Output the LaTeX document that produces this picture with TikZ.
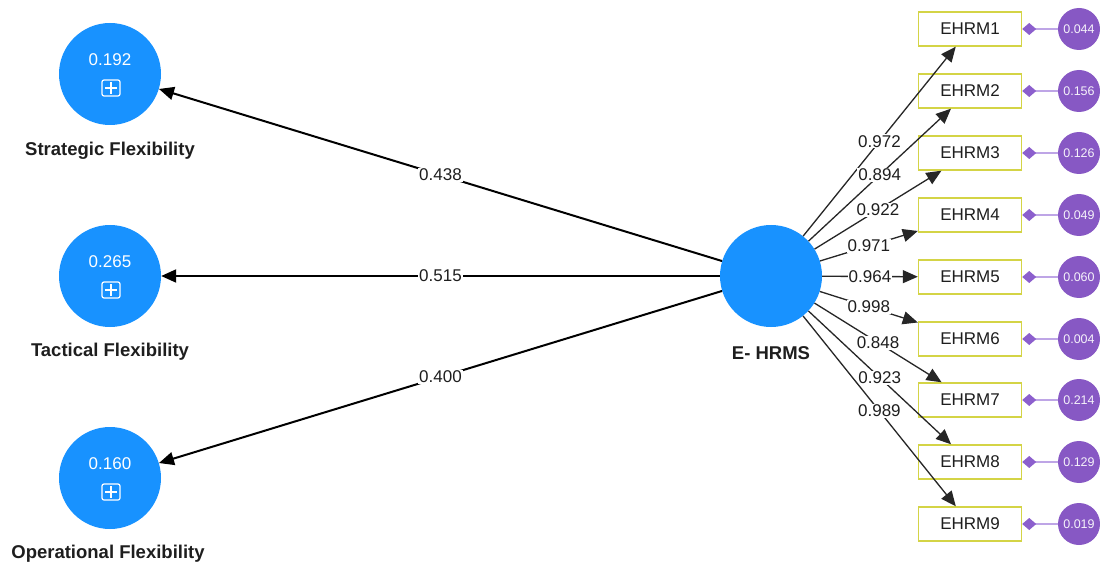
\documentclass[tikz,border=0pt]{standalone}
\usepackage{fontspec}
\setmainfont{Liberation Sans}
\usetikzlibrary{arrows.meta}
\definecolor{lvblue}{RGB}{24,146,255}
\definecolor{indyellow}{RGB}{212,212,70}
\definecolor{errpurple}{RGB}{135,88,196}
\definecolor{errline}{RGB}{190,165,230}
\definecolor{diapurple}{RGB}{140,95,205}
\definecolor{textgray}{RGB}{30,30,30}
\begin{document}
\begin{tikzpicture}[x=1pt,y=-1pt,
  lv/.style={circle, fill=lvblue, minimum size=102pt, inner sep=0pt},
  lvname/.style={font=\fontsize{18.5}{20}\selectfont\bfseries, text=textgray},
  lvval/.style={font=\fontsize{17}{17}\selectfont, text=white},
  ind/.style={draw=indyellow, line width=1.4pt, fill=white, minimum width=103pt, minimum height=34pt, inner sep=0pt, font=\fontsize{17}{17}\selectfont, text=textgray},
  err/.style={circle, fill=errpurple, minimum size=42pt, inner sep=0pt, text=white!92!errpurple, font=\fontsize{12.5}{12.5}\selectfont},
  outeredge/.style={line width=2pt, draw=black, -{Triangle[length=15pt,width=13pt]}},
  loadedge/.style={line width=1.3pt, draw=black!85, -{Triangle[length=15pt,width=13pt]}},
  erredge/.style={line width=1.6pt, draw=errline, -{Diamond[length=14pt,width=12pt,fill=diapurple,color=diapurple]}},
  lbl/.style={fill=white, inner sep=1pt, font=\fontsize{17}{17}\selectfont, text=textgray},
  plusicon/.style={draw=white, line width=1.2pt, rounded corners=2pt}
]
\clip (0,0) rectangle (1100,564);
\useasboundingbox (0,0) rectangle (1100,564);
\fill[white] (0,0) rectangle (1100,564);

% latent variables
\node[lv] (sf) at (110,74) {};
\node[lv] (tf) at (110,276) {};
\node[lv] (of) at (110,478) {};
\node[lv] (eh) at (771,276) {};

\node[lvval] (sfv) at (110,60) {0.192};
\node[lvval] (tfv) at (110,262) {0.265};
\node[lvval] (ofv) at (110,464) {0.160};
\foreach \y in {88,290,492}{
  \draw[plusicon] (102,\y-8) rectangle (120,\y+8);
  \draw[white, line width=1.2pt] (105,\y) -- (117,\y) (111,\y-6) -- (111,\y+6);
}

\node[lvname] (sfn) at (110,151) {Strategic Flexibility};
\node[lvname] (tfn) at (110,352) {Tactical Flexibility};
\node[lvname] (ofn) at (108,554) {Operational Flexibility};
\node[lvname] (ehn) at (771,353) {E- HRMS};

% structural paths
\draw[outeredge] (eh) -- node[lbl]{0.438} (sf);
\draw[outeredge] (eh) -- node[lbl]{0.515} (tf);
\draw[outeredge] (eh) -- node[lbl]{0.400} (of);

% indicators
\foreach \i/\y/\ev in {1/29/0.044, 2/91/0.156, 3/153/0.126, 4/215/0.049, 5/277/0.060, 6/339/0.004, 7/400/0.214, 8/462/0.129, 9/524/0.019}{
  \node[ind] (i\i) at (970,\y) {EHRM\i};
  \node[err] (e\i) at (1079,\y) {\ev};
  \draw[erredge] (e\i) -- (i\i);
}

\foreach \i/\l in {1/0.972, 2/0.894, 3/0.922, 4/0.971, 5/0.964, 6/0.998, 7/0.848, 8/0.923, 9/0.989}{
  \draw[loadedge] (eh) -- node[lbl]{\l} (i\i);
}
\end{tikzpicture}
\end{document}
